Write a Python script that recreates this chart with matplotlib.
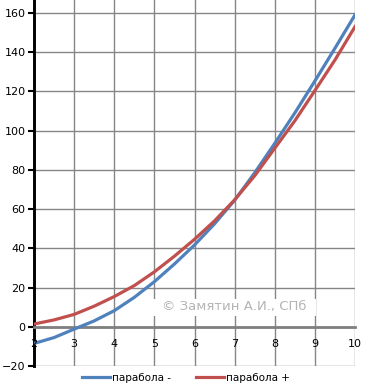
import matplotlib.pyplot as plt
from matplotlib.patches import Rectangle

# data
x = [2, 2.5, 3, 3.5, 4, 4.5, 5, 5.5, 6, 6.5, 7, 7.5, 8, 8.5, 9, 9.5, 10]
minus = [-8.5, -5.5, -1.2, 3, 8.2, 15, 23, 32, 41.7, 52.5, 64.5, 78.5, 93.5, 109, 125.3, 142, 159]
plus = [1.4, 3.5, 6.3, 10.5, 15.4, 21, 28, 36, 44.6, 54, 64.7, 77, 91, 105, 120.4, 136, 153]
labels = ["парабола -", "парабола +"]
yticks = [-20, 0, 20, 40, 60, 80, 100, 120, 140, 160]
xticks = [2, 3, 4, 5, 6, 7, 8, 9, 10]

fig = plt.figure(figsize=(3.67, 3.92), dpi=100)
ax = fig.add_axes([34/367, 26/392, 321/367, 366/392])

ax.plot(x, minus, color='#4F81BD', linewidth=2.3, label=labels[0], zorder=4)
ax.plot(x, plus, color='#C0504D', linewidth=2.3, label=labels[1], zorder=4)

ax.set_xlim(2, 10)
ax.set_ylim(-20, 166.6)
ax.set_xticks(xticks)
ax.set_yticks(yticks)
ax.grid(True, color='#868686', linewidth=1.0)
ax.set_axisbelow(True)

ax.spines['top'].set_visible(False)
ax.spines['right'].set_visible(False)
ax.spines['left'].set_linewidth(2.1)
ax.spines['left'].set_color('black')
ax.spines['left'].set_zorder(3)
ax.spines['bottom'].set_position(('data', 0))
ax.spines['bottom'].set_color('#808080')
ax.spines['bottom'].set_linewidth(2)
ax.spines['bottom'].set_zorder(3)

ax.tick_params(axis='y', direction='out', length=4, width=1.5, color='black', labelsize=8, pad=2)
ax.tick_params(axis='x', length=0, labelbottom=False)

# x labels sit just under the zero line, drawn on top of the curves
for t in xticks:
    ax.text(t, -8.8, str(t), fontsize=8, ha='center', va='center', zorder=6, clip_on=False)

# watermark
ax.add_patch(Rectangle((4.97, 5.5), 4.05, 8.8, facecolor='white', edgecolor='none', zorder=2.5))
ax.text(7.0, 10.3, "© Замятин А.И., СПб", color='#b4b4b4', fontsize=9.5, ha='center', va='center', zorder=2.6)

fig.legend(loc='center', bbox_to_anchor=(186/367, 14/392), ncol=2, frameon=False,
           fontsize=7.5, handlelength=2.7, columnspacing=2.4, handletextpad=0.2)

fig.savefig('out.png', dpi=100)
